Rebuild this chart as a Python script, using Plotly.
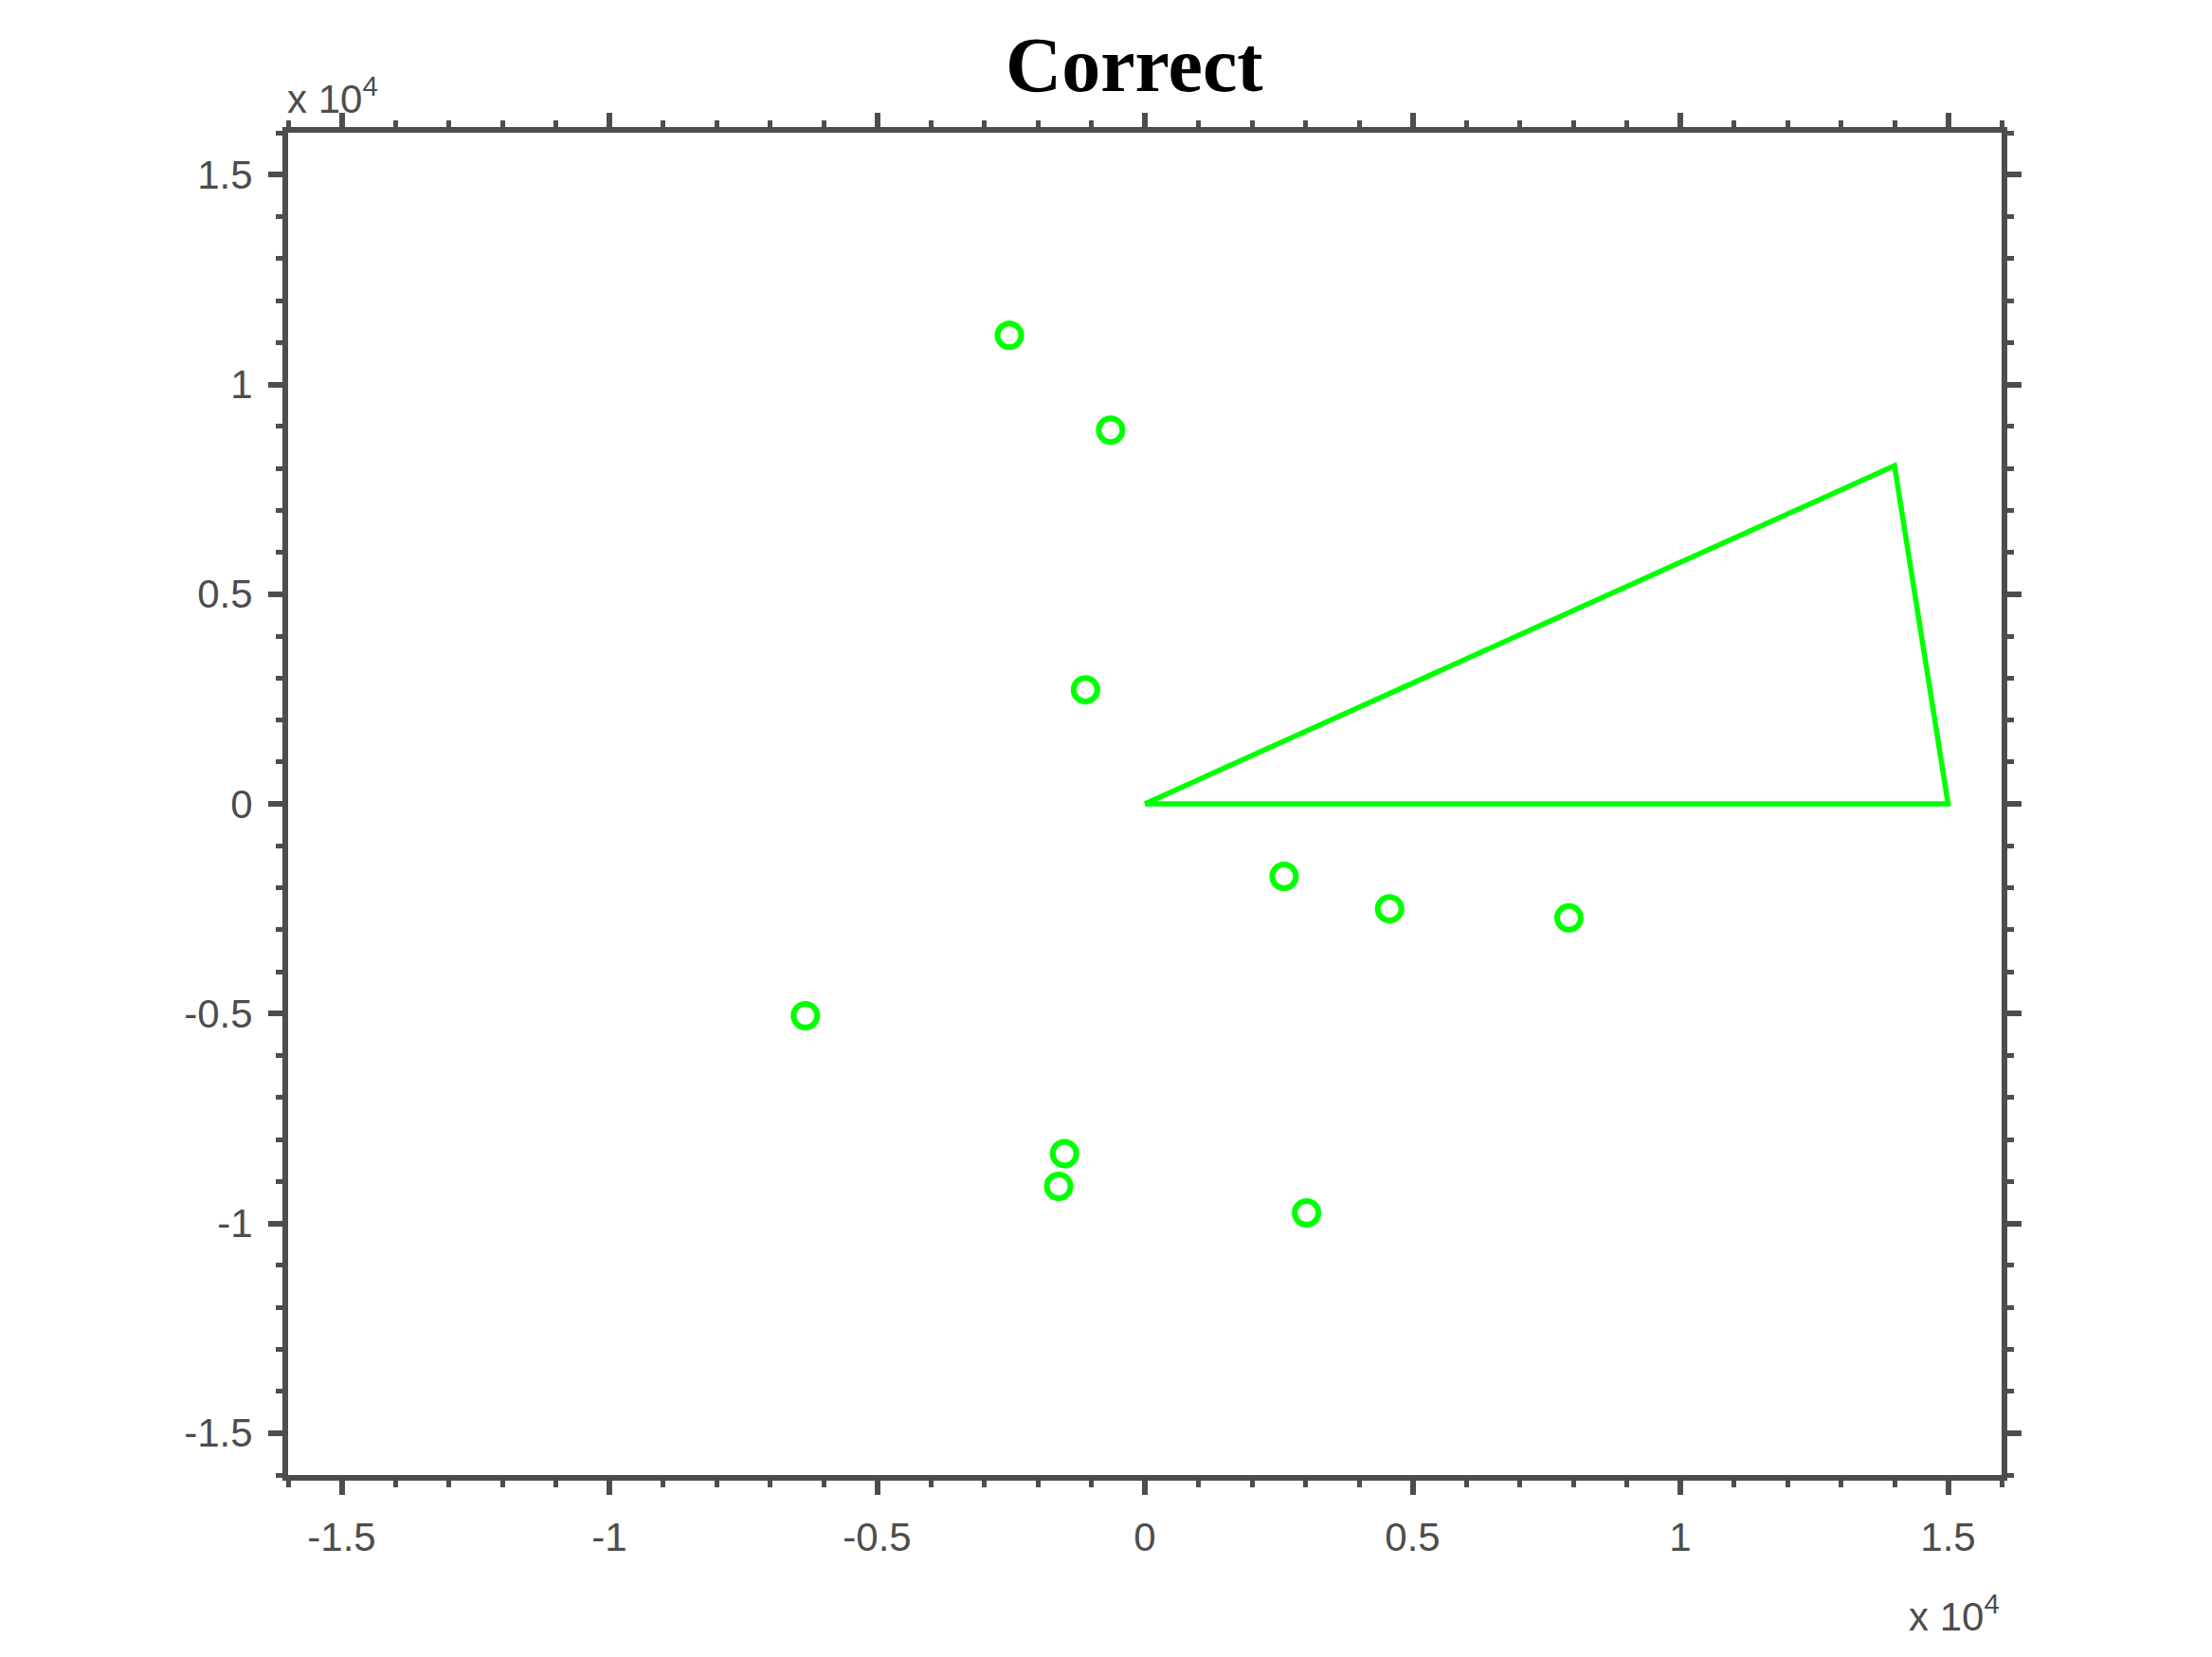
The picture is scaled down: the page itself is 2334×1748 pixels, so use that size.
import plotly.graph_objects as go

# ── Data ───────────────────────────────────────────────────────────────────────
point_x = [-2530, -640, -1110, 2600, 4570, 7920, -6340, -1500, -1610, 3020]
point_y = [11170, 8910, 2720, -1730, -2500, -2720, -5050, -8340, -9120, -9750]

wedge_x = [0, 14000, 15000, 0]
wedge_y = [0, 8060, 0, 0]

tick_vals = [-15000, -10000, -5000, 0, 5000, 10000, 15000]
tick_text = ["-1.5", "-1", "-0.5", "0", "0.5", "1", "1.5"]

# ── Design tokens ──────────────────────────────────────────────────────────────
GREEN = "#00ff00"
AXIS_CLR = "#4d4d4d"
TICK_FONT = dict(family="Liberation Sans, Arial, sans-serif", size=42, color=AXIS_CLR)


def _axis(standoff, **kwargs):
    return dict(
        range=[-16000, 16000],
        tickvals=tick_vals,
        ticktext=tick_text,
        ticks="outside",
        ticklen=15,
        tickwidth=5.5,
        tickcolor=AXIS_CLR,
        ticklabelstandoff=standoff,
        showline=True,
        linewidth=6,
        linecolor=AXIS_CLR,
        mirror="ticks",
        showgrid=False,
        zeroline=False,
        tickfont=TICK_FONT,
        minor=dict(dtick=1000, tick0=0, ticks="outside", ticklen=7,
                   tickwidth=4.5, tickcolor=AXIS_CLR, showgrid=False),
        **kwargs
    )


fig = go.Figure()

fig.add_trace(go.Scatter(
    x=wedge_x, y=wedge_y,
    mode="lines",
    line=dict(color=GREEN, width=5.5),
    showlegend=False,
))

fig.add_trace(go.Scatter(
    x=point_x, y=point_y,
    mode="markers",
    marker=dict(symbol="circle-open", size=25, color=GREEN,
                line=dict(color=GREEN, width=6)),
    showlegend=False,
))

# page body has an 8px margin, so the figure is shrunk by 8px and margins shifted
fig.update_layout(
    width=2326, height=1740,
    paper_bgcolor="white",
    plot_bgcolor="white",
    margin=dict(l=296, r=222, t=132, b=192),
    xaxis=_axis(9),
    yaxis=_axis(8),
    annotations=[
        dict(text="<b>Correct</b>", xref="paper", yref="paper",
             x=0.494, y=1.0, yshift=24, xanchor="center", yanchor="bottom",
             showarrow=False,
             font=dict(family="Liberation Serif, Times New Roman, serif", size=82, color="black")),
        dict(text="x 10<sup>4</sup>", xref="paper", yref="paper",
             x=0, y=1.0, xshift=-3, yshift=10, xanchor="left", yanchor="bottom",
             showarrow=False, font=TICK_FONT),
        dict(text="x 10<sup>4</sup>", xref="paper", yref="paper",
             x=1.0, y=0, yshift=-175, xanchor="right", yanchor="bottom",
             showarrow=False, font=TICK_FONT),
    ],
)

fig.write_html("out.html")
